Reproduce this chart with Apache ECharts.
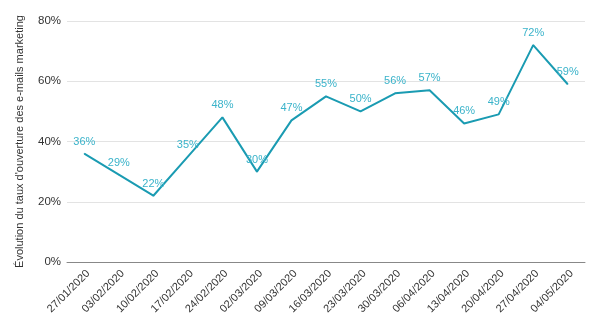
<!DOCTYPE html>
<html><head><meta charset="utf-8">
<script src="https://cdn.jsdelivr.net/npm/echarts@6/dist/echarts.min.js"></script>
<style>html,body{margin:0;padding:0;background:#fff}#c{width:602px;height:325px}</style>
</head><body><div id="c"></div>
<script>
var categories = ['27/01/2020','03/02/2020','10/02/2020','17/02/2020','24/02/2020','02/03/2020','09/03/2020','16/03/2020','23/03/2020','30/03/2020','06/04/2020','13/04/2020','20/04/2020','27/04/2020','04/05/2020'];
var values = [36,29,22,35,48,30,47,55,50,56,57,46,49,72,59];
var yTicks = [0,20,40,60,80];
var chart = echarts.init(document.getElementById('c'));
chart.setOption({
  animation:false,
  grid:{left:67,right:17,top:21,bottom:63},
  xAxis:{type:'category',data:categories,boundaryGap:true,
    axisTick:{show:false},
    axisLine:{lineStyle:{color:'#888',width:1}},
    axisLabel:{rotate:45,fontSize:11,color:'#333',fontFamily:'Liberation Sans, Arial',margin:6,verticalAlign:'top',interval:0}},
  yAxis:{type:'value',min:yTicks[0],max:yTicks[yTicks.length-1],interval:20,
    name:"Évolution du taux d'ouverture des e-mails marketing",
    nameLocation:'middle',nameGap:42,nameRotate:90,
    nameTextStyle:{fontSize:11,color:'#333',fontFamily:'Liberation Sans, Arial'},
    axisLabel:{formatter:'{value}%',fontSize:11.5,color:'#333',fontFamily:'Liberation Sans, Arial',margin:6},
    splitLine:{lineStyle:{color:'#e3e3e3',width:1}},
    axisLine:{show:false},axisTick:{show:false}},
  series:[{type:'line',data:values,symbol:'circle',symbolSize:1,showSymbol:true,
    itemStyle:{color:'#1a9bb2'},
    lineStyle:{color:'#1a9bb2',width:2},
    label:{show:true,position:'top',distance:6,formatter:'{c}%',fontSize:11,color:'#3ab3ca',fontFamily:'Liberation Sans, Arial'}}]
});
</script></body></html>
